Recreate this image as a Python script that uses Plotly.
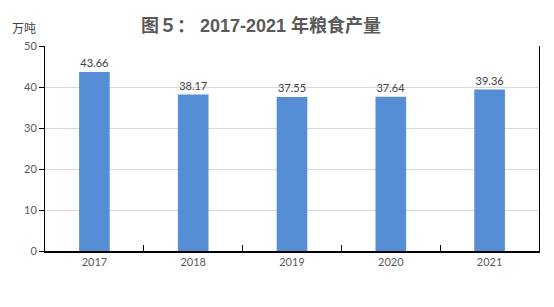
import plotly.graph_objects as go

years = ["2017", "2018", "2019", "2020", "2021"]
output = [43.66, 38.17, 37.55, 37.64, 39.36]
labels = ["43.66", "38.17", "37.55", "37.64", "39.36"]
y_ticks = [0, 10, 20, 30, 40, 50]

fig = go.Figure(go.Bar(
    x=years, y=output, text=labels, textposition="outside",
    textfont=dict(family="Lato", size=11, color="#404040"),
    marker=dict(color="#558ED5", line=dict(width=0)),
    width=0.31, cliponaxis=False,
))

fig.update_layout(
    width=554, height=307,
    margin=dict(l=45, r=15, t=46, b=56),
    paper_bgcolor="white", plot_bgcolor="white",
    showlegend=False,
    font=dict(family="Lato", color="#595959"),
    title=dict(text="<b>图５： 2017-2021 年粮食产量</b>", x=261/554, xanchor="center",
               y=0.915, yanchor="middle",
               font=dict(family="Liberation Sans, Noto Sans CJK SC", size=18, color="#595959")),
    xaxis=dict(tickson="boundaries", ticks="inside", ticklen=6, tickcolor="black",
               showline=True, linecolor="black", linewidth=1.5, showgrid=False,
               tickfont=dict(family="Lato", size=11, color="#595959")),
    yaxis=dict(range=[0, 50], tickvals=y_ticks, ticks="outside", ticklen=5, tickcolor="black",
               showline=True, linecolor="black", linewidth=1, mirror=True,
               showgrid=True, gridcolor="#D9D9D9", gridwidth=1, zeroline=False,
               tickfont=dict(family="Lato", size=11, color="#595959")),
    annotations=[dict(text="万吨", xref="paper", yref="paper", x=-35/494, y=1 + 18/205,
                      xanchor="left", yanchor="middle", showarrow=False,
                      font=dict(family="Noto Sans CJK SC", size=12, color="#404040"))],
)
fig.write_html("out.html")
